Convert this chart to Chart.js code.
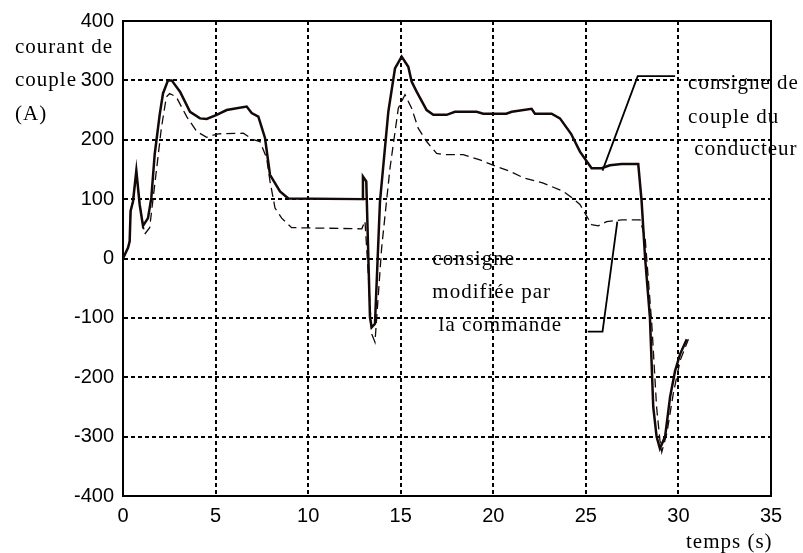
<!DOCTYPE html>
<html><head><meta charset="utf-8">
<script src="https://cdn.jsdelivr.net/npm/chart.js@4.4.1/dist/chart.umd.min.js"></script>
<style>html,body{margin:0;padding:0;background:#fff;}canvas{display:block}</style>
</head><body>
<canvas id="c" width="803" height="553"></canvas>
<script>
// consigne de couple du conducteur (solid)
const solidT = [0, 0.27, 0.36, 0.41, 0.54, 0.72, 0.9, 1.08, 1.35, 1.53, 1.71, 1.98, 2.16, 2.43, 2.63, 3.08, 3.62, 4.16, 4.52, 5.06, 5.6, 6.14, 6.68, 6.95, 7.31, 7.67, 7.94, 8.48, 8.93, 12.93, 12.96, 13.14, 13.34, 13.43, 13.61, 13.88, 14.33, 14.69, 15.05, 15.41, 15.59, 15.86, 16.40, 16.76, 17.48, 17.93, 19.1, 19.46, 20.7, 21.0, 22.07, 22.25, 22.43, 23.15, 23.6, 24.2, 24.68, 25.31, 25.85, 26.3, 26.93, 27.83, 28.01, 28.2, 28.46, 28.64, 28.82, 29.0, 29.28, 29.55, 29.82, 30.09, 30.45];
const solidI = [0, 18, 29, 80, 96, 148, 91, 55, 68, 102, 175, 242, 278, 300, 300, 281, 247, 236, 235, 242, 250, 253, 256, 245, 239, 203, 141, 113, 101, 100, 138, 130, -99, -116, -110, 96, 247, 320, 340, 323, 298, 281, 250, 242, 242, 247, 247, 244, 244, 247, 252, 244, 244, 244, 236, 210, 180, 152, 152, 157, 159, 159, 97, 1, -99, -250, -300, -320, -300, -233, -189, -161, -136];
// consigne modifiee par la commande (dashed)
const dashT = [0, 0.27, 0.36, 0.41, 0.54, 0.72, 0.9, 1.17, 1.44, 1.8, 2.07, 2.34, 2.52, 2.88, 3.44, 3.98, 4.52, 4.88, 5.15, 6.5, 7.04, 7.4, 7.76, 7.94, 8.21, 8.57, 9.11, 12.9, 13.07, 13.25, 13.43, 13.61, 13.97, 14.42, 14.87, 15.23, 15.59, 15.95, 16.4, 16.94, 17.3, 18.38, 19.28, 20.18, 20.9, 21.62, 22.7, 23.78, 24.14, 24.68, 25.31, 25.67, 26.12, 26.94, 27.93, 28.2, 28.56, 28.82, 29.0, 29.1, 29.37, 29.72, 30.09, 30.54];
const dashI = [0, 18, 29, 80, 96, 148, 91, 41, 52, 147, 219, 272, 278, 272, 239, 214, 204, 208, 210, 211, 200, 197, 169, 130, 85, 68, 52, 50, 63, -27, -127, -141, 18, 152, 253, 276, 253, 219, 197, 177, 175, 175, 166, 155, 147, 136, 127, 113, 105, 91, 57, 55, 62, 65, 65, 35, -110, -250, -306, -326, -295, -228, -172, -136];
// callout leader lines
const leader1T = [29.82, 27.8, 25.9];
const leader1I = [307, 307, 148];
const leader2T = [25.1, 25.9, 26.7];
const leader2I = [-123, -123, 62];
// axes
const xTickValues = [0, 5, 10, 15, 20, 25, 30, 35];
const yTickValues = [-400, -300, -200, -100, 0, 100, 200, 300, 400];
// texts
const yTitleLines = ['courant de', 'couple', '(A)'];
const xTitle = 'temps (s)';
const driverLines = ['consigne de', 'couple du', ' conducteur'];
const driverAnchor = {t: 30.52, i: [285.5, 229, 175]};
const cmdLines = ['consigne', 'modifiée par', ' la commande'];
const cmdAnchor = {t: 16.71, i: [-11, -66.7, -122.8]};

const pts = (t, v) => t.map((x, k) => ({x: x, y: v[k]}));
const INK = '#140808';
const SERIF = '21px "Liberation Serif", "Times New Roman", serif';

const frame = {
  id: 'frame',
  beforeDatasetsDraw(chart) {
    const {ctx, chartArea: a} = chart;
    ctx.save();
    ctx.strokeStyle = '#000';
    ctx.lineWidth = 2;
    ctx.strokeRect(a.left, a.top, a.right - a.left, a.bottom - a.top);
    ctx.restore();
  },
  afterDraw(chart) {
    const {ctx} = chart;
    const xs = chart.scales.x, ys = chart.scales.y;
    ctx.save();
    ctx.fillStyle = '#000';
    ctx.font = SERIF;
    ctx.textBaseline = 'alphabetic';
    ctx.textAlign = 'left';
    try { ctx.letterSpacing = '1px'; } catch (e) {}
    const yb = [53, 86, 120];
    yTitleLines.forEach((s, k) => ctx.fillText(s, 15, yb[k]));
    ctx.fillText(xTitle, 686, 548);
    driverLines.forEach((s, k) => ctx.fillText(s, xs.getPixelForValue(driverAnchor.t), ys.getPixelForValue(driverAnchor.i[k])));
    cmdLines.forEach((s, k) => ctx.fillText(s, xs.getPixelForValue(cmdAnchor.t), ys.getPixelForValue(cmdAnchor.i[k])));
    ctx.restore();
  }
};

new Chart(document.getElementById('c'), {
  type: 'scatter',
  data: {
    datasets: [
      {data: pts(dashT, dashI), showLine: true, borderColor: INK, borderWidth: 1.3, borderDash: [9, 5], pointRadius: 0, tension: 0},
      {data: pts(solidT, solidI), showLine: true, borderColor: INK, borderWidth: 2.5, pointRadius: 0, tension: 0},
      {data: pts(leader1T, leader1I), showLine: true, borderColor: '#000', borderWidth: 1.8, pointRadius: 0},
      {data: pts(leader2T, leader2I), showLine: true, borderColor: '#000', borderWidth: 1.8, pointRadius: 0}
    ]
  },
  options: {
    responsive: false,
    animation: false,
    devicePixelRatio: 1,
    layout: {padding: {top: 19, right: 32, left: 0, bottom: 0}},
    plugins: {legend: {display: false}, tooltip: {enabled: false}},
    scales: {
      x: {
        type: 'linear', min: 0, max: 35,
        afterBuildTicks: s => { s.ticks = xTickValues.map(v => ({value: v})); },
        afterFit: s => { s.height = 57; },
        ticks: {color: '#000', padding: 8, font: {family: '"Liberation Sans", Arial, sans-serif', size: 20}, maxRotation: 0},
        grid: {color: '#000', lineWidth: 2, drawTicks: false},
        border: {display: true, color: '#000', width: 2, dash: [4, 3]}
      },
      y: {
        type: 'linear', min: -400, max: 400,
        afterBuildTicks: s => { s.ticks = yTickValues.map(v => ({value: v})); },
        afterFit: s => { s.width = 123; },
        ticks: {color: '#000', padding: 9, font: {family: '"Liberation Sans", Arial, sans-serif', size: 20}},
        grid: {color: '#000', lineWidth: 2, drawTicks: false},
        border: {display: true, color: '#000', width: 2, dash: [4, 3]}
      }
    }
  },
  plugins: [frame]
});
</script>
</body></html>
